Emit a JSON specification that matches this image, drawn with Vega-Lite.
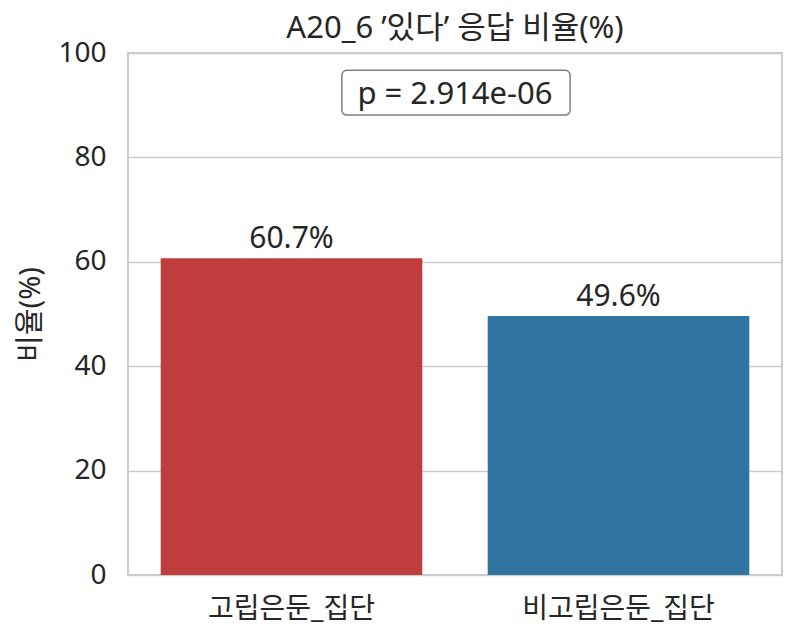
{
  "$schema": "https://vega.github.io/schema/vega-lite/v6.json",
  "width": 654,
  "height": 522,
  "autosize": {"type": "none"},
  "padding": {"left": 128, "top": 53, "right": 18, "bottom": 63},
  "background": "white",
  "config": {
    "font": "Noto Sans, Noto Sans CJK KR",
    "view": {"stroke": "#cccccc", "strokeWidth": 2},
    "axis": {"labelColor": "#262626", "titleColor": "#262626", "labelFontSize": 28, "titleFontSize": 29, "titleFontWeight": "normal", "labelFont": "Noto Sans, Noto Sans CJK KR", "titleFont": "Noto Sans, Noto Sans CJK KR", "gridColor": "#cccccc", "gridWidth": 1.5, "domain": false, "ticks": false, "labelLimit": 400},
    "title": {"fontSize": 31, "fontWeight": "normal", "color": "#262626", "font": "Noto Sans, Noto Sans CJK KR"}
  },
  "title": {"text": "A20_6 ’있다’ 응답 비율(%)", "offset": -6},
  "datasets": {
    "bars": [
      {"group": "고립은둔_집단", "pct": 60.7, "label": "60.7%"},
      {"group": "비고립은둔_집단", "pct": 49.6, "label": "49.6%"}
    ],
    "note": [{"text": "p = 2.914e-06"}]
  },
  "layer": [
    {
      "data": {"name": "bars"},
      "encoding": {
        "x": {"field": "group", "type": "nominal", "sort": null, "title": null,
              "scale": {"paddingInner": 0.2, "paddingOuter": 0.1},
              "axis": {"labelAngle": 0, "labelPadding": 20, "grid": false}},
        "y": {"field": "pct", "type": "quantitative", "title": "비율(%)",
              "scale": {"domain": [0, 100], "nice": false, "zero": true},
              "axis": {"values": [0, 20, 40, 60, 80, 100], "labelPadding": 22, "titlePadding": 12}}
      },
      "layer": [
        {"mark": {"type": "bar"},
         "encoding": {"color": {"field": "group", "type": "nominal", "sort": null, "legend": null,
                                "scale": {"range": ["#c03d3e", "#3274a1"]}}}},
        {"mark": {"type": "text", "baseline": "alphabetic", "dy": -10, "fontSize": 30, "color": "#262626"},
         "encoding": {"text": {"field": "label"}}}
      ]
    },
    {
      "data": {"name": "note"},
      "layer": [
        {"mark": {"type": "rect", "fill": "white", "stroke": "#808080", "strokeWidth": 1.5, "cornerRadius": 5},
         "encoding": {
           "x": {"datum": 0.327, "type": "quantitative", "scale": {"domain": [0, 1], "nice": false, "zero": false}, "axis": null},
           "x2": {"datum": 0.676},
           "y": {"datum": 88.1, "type": "quantitative"},
           "y2": {"datum": 96.7}
         }},
        {"mark": {"type": "text", "baseline": "middle", "align": "center", "fontSize": 31, "color": "#262626"},
         "encoding": {
           "x": {"datum": 0.5, "type": "quantitative", "scale": {"domain": [0, 1], "nice": false, "zero": false}, "axis": null},
           "y": {"datum": 92.0, "type": "quantitative"},
           "text": {"field": "text"}
         }}
      ]
    }
  ],
  "resolve": {"scale": {"x": "independent", "color": "independent"}, "axis": {"x": "independent"}}
}
